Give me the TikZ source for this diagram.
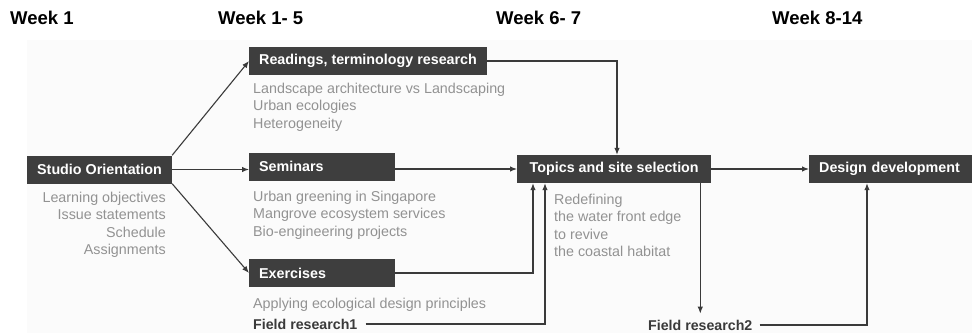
\documentclass[tikz,border=0pt]{standalone}
\usepackage{fontspec}
\setmainfont{Liberation Sans}
\usetikzlibrary{arrows.meta,positioning}
\definecolor{boxgray}{HTML}{3E3E3E}
\definecolor{notegray}{HTML}{929292}
\definecolor{linegray}{HTML}{3A3A3A}
\begin{document}
\begin{tikzpicture}[x=1pt,y=-1pt,
    week/.style={anchor=west, inner sep=0, font=\fontsize{18.5}{20}\selectfont\bfseries},
    phase/.style={anchor=west, fill=boxgray, text=white, minimum height=28, inner xsep=10,
      font=\fontsize{14.3}{17}\selectfont\bfseries},
    note/.style={inner sep=0, text=notegray, align=left, font=\fontsize{14.3}{17.3}\selectfont},
    field/.style={anchor=west, inner sep=0, text=linegray, font=\fontsize{14.2}{17}\selectfont\bfseries},
    flow/.style={linegray, line width=1.1pt, -{Latex[length=7pt,width=5.5pt]}}]
  \useasboundingbox (0,0) rectangle (972,333);
  \fill[black!1.5] (27,40) rectangle (972,333);
  \node[week] (w1) at (10,18) {Week 1};
  \node[week] (w2) at (218,18) {Week 1- 5};
  \node[week] (w3) at (496,18) {Week 6- 7};
  \node[week] (w4) at (772,18) {Week 8-14};
  \node[phase] (studio) at (27,169.5) {Studio Orientation};
  \node[phase] (readings) at (249,61) {Readings, terminology research};
  \node[phase, minimum width=146, text width=126] (seminars) at (249,166.5) {Seminars};
  \node[phase, minimum width=146, text width=126] (exercises) at (249,273) {Exercises};
  \node[phase, minimum width=194] (topics) at (517,169) {Topics and site selection};
  \node[phase, minimum width=163, text width=143] (design) at (809,169) {Design development};
  \node[note, anchor=north east, align=right] (studionote) at (166,192) {Learning objectives\\Issue statements\\Schedule\\Assignments};
  \node[note, anchor=north west] (readnote) at (253,83) {Landscape architecture vs Landscaping\\Urban ecologies\\Heterogeneity};
  \node[note, anchor=north west] (semnote) at (253,191) {Urban greening in Singapore\\Mangrove ecosystem services\\Bio-engineering projects};
  \node[note, anchor=north west] (exnote) at (253,298) {Applying ecological design principles};
  \node[note, anchor=north west] (topnote) at (554,194) {Redefining\\the water front edge\\to revive\\the coastal habitat};
  \node[field] (field1) at (253,324) {Field research1};
  \node[field] (field2) at (648,325) {Field research2};
  \draw[flow] (studio.north east) -- (readings.west);
  \draw[flow] (studio.east) -- (studio.east -| seminars.west);
  \draw[flow] (studio.south east) -- (exercises.west);
  \draw[flow] (readings.east) -| ([xshift=100]topics.north west);
  \draw[flow] (seminars.east |- topics.west) -- (topics.west);
  \draw[flow] (exercises.east) -| ([xshift=16]topics.south west);
  \draw[flow] ([xshift=8]field1.east) -| ([xshift=28]topics.south west);
  \draw[flow] (topics.south -| field2.north) -- ([yshift=6pt]field2.north);
  \draw[flow] (topics.east) -- (design.west);
  \draw[flow] ([xshift=7]field2.east) -| ([xshift=58]design.south west);
\end{tikzpicture}
\end{document}
